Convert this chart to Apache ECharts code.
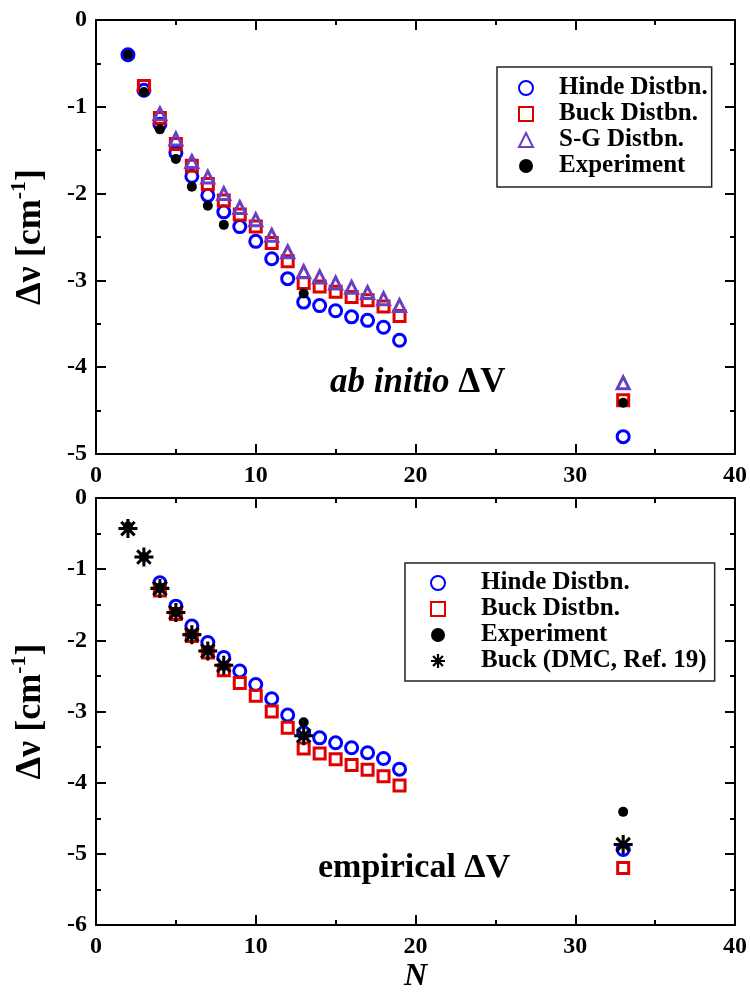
<!DOCTYPE html>
<html><head><meta charset="utf-8">
<script src="https://cdn.jsdelivr.net/npm/echarts@6/dist/echarts.min.js"></script>
<style>html,body{margin:0;padding:0;background:#fff}#c{width:750px;height:994px}</style>
</head><body><div id="c"></div>
<script>
// ---- Data: top panel (ab initio ΔV) ----
const topHindeN   = [2,3,4,5,6,7,8,9,10,11,12,13,14,15,16,17,18,19,33];
const topHindeV   = [-0.40,-0.81,-1.20,-1.53,-1.80,-2.02,-2.21,-2.38,-2.55,-2.75,-2.98,-3.25,-3.29,-3.35,-3.42,-3.46,-3.54,-3.69,-4.80];
const topBuckN    = [3,4,5,6,7,8,9,10,11,12,13,14,15,16,17,18,19,33];
const topBuckV    = [-0.76,-1.13,-1.43,-1.68,-1.89,-2.08,-2.24,-2.38,-2.57,-2.78,-3.03,-3.07,-3.13,-3.19,-3.23,-3.30,-3.41,-4.38];
const topSGN      = [4,5,6,7,8,9,10,11,12,13,14,15,16,17,18,19,33];
const topSGV      = [-1.08,-1.37,-1.63,-1.81,-2.00,-2.16,-2.30,-2.48,-2.67,-2.90,-2.96,-3.03,-3.08,-3.14,-3.21,-3.29,-4.18];
// ---- Experiment (both panels) ----
const expN        = [2,3,4,5,6,7,8,13,33];
const expV        = [-0.40,-0.83,-1.26,-1.60,-1.92,-2.14,-2.36,-3.15,-4.41];
// ---- Data: bottom panel (empirical ΔV) ----
const botHindeN   = [4,5,6,7,8,9,10,11,12,13,14,15,16,17,18,19,33];
const botHindeV   = [-1.19,-1.52,-1.80,-2.03,-2.24,-2.43,-2.62,-2.82,-3.05,-3.30,-3.37,-3.44,-3.51,-3.58,-3.66,-3.81,-4.94];
const botBuckN    = [4,5,6,7,8,9,10,11,12,13,14,15,16,17,18,19,33];
const botBuckV    = [-1.30,-1.63,-1.94,-2.17,-2.42,-2.60,-2.78,-3.00,-3.23,-3.52,-3.59,-3.67,-3.75,-3.82,-3.91,-4.04,-5.20];
const dmcN        = [2,3,4,5,6,7,8,13,33];
const dmcV        = [-0.43,-0.83,-1.27,-1.61,-1.92,-2.15,-2.35,-3.34,-4.87];
// ---- Axis ticks ----
const xTicks = [0,10,20,30,40];
const topYRange = [-5,0];
const botYRange = [-6,0];

const zip = (a,b)=>a.map((v,i)=>[v,b[i]]);
const FONT = "'Liberation Serif','Times New Roman',serif";
const BLUE='#0000ff', RED='#e00000', PURPLE='#6a3fc0', BLACK='#000';
const STAR='path://M-1.6,-10L1.6,-10L1.6,10L-1.6,10Z M-10,-1.6L10,-1.6L10,1.6L-10,1.6Z M-5.94,-8.2L8.2,5.94L5.94,8.2L-8.2,-5.94Z M5.94,-8.2L8.2,-5.94L-5.94,8.2L-8.2,5.94Z';

function xAx(gi, mirror){
  return {gridIndex:gi, type:'value', min:xTicks[0], max:xTicks[xTicks.length-1], interval:10,
    position: mirror?'top':'bottom',
    axisLine:{show:true,onZero:false,lineStyle:{color:'#000',width:2}},
    axisTick:{show:true,inside:true,length:10,lineStyle:{color:'#000',width:2}},
    minorTick:{show:true,splitNumber:2,length:5,lineStyle:{color:'#000',width:2}},
    splitLine:{show:false},
    axisLabel:{show:!mirror,margin:10,color:'#000',fontFamily:FONT,fontWeight:'bold',fontSize:24},
    name: (!mirror && gi===1)?'N':'', nameLocation:'middle', nameGap:36,
    nameTextStyle:{fontFamily:FONT,fontWeight:'bold',fontStyle:'italic',fontSize:32,color:'#000'}};
}
function yAx(gi, mirror, rng){
  return {gridIndex:gi, type:'value', min:rng[0], max:rng[1], interval:1,
    position: mirror?'right':'left',
    axisLine:{show:true,onZero:false,lineStyle:{color:'#000',width:2}},
    axisTick:{show:true,inside:true,length:10,lineStyle:{color:'#000',width:2}},
    minorTick:{show:true,splitNumber:2,length:5,lineStyle:{color:'#000',width:2}},
    splitLine:{show:false},
    axisLabel:{show:!mirror,margin:9,color:'#000',fontFamily:FONT,fontWeight:'bold',fontSize:24},
    name: mirror?'':'{a|Δν [cm}{s|-1}{a|]}', nameLocation:'middle', nameRotate:90, nameGap:42,
    nameTextStyle:{rich:{
      a:{fontFamily:FONT,fontWeight:'bold',fontSize:36,color:'#000'},
      s:{fontFamily:FONT,fontWeight:'bold',fontSize:22,color:'#000',padding:[0,0,24,0]}}}};
}
const hollow=(c)=>({color:'transparent',borderColor:c,borderWidth:3,opacity:1});

const series=[
  {name:'Hinde Distbn.',type:'scatter',xAxisIndex:0,yAxisIndex:0,symbol:'circle',symbolSize:12,itemStyle:hollow(BLUE),data:zip(topHindeN,topHindeV)},
  {name:'Buck Distbn.',type:'scatter',xAxisIndex:0,yAxisIndex:0,symbol:'rect',symbolSize:11,itemStyle:hollow(RED),data:zip(topBuckN,topBuckV)},
  {name:'S-G Distbn.',type:'scatter',xAxisIndex:0,yAxisIndex:0,symbol:'triangle',symbolSize:12,itemStyle:hollow(PURPLE),data:zip(topSGN,topSGV)},
  {name:'Experiment',type:'scatter',xAxisIndex:0,yAxisIndex:0,symbol:'circle',symbolSize:10,itemStyle:{color:BLACK,opacity:1},data:zip(expN,expV)},
  {name:'Hinde Distbn.',type:'scatter',xAxisIndex:2,yAxisIndex:2,symbol:'circle',symbolSize:12,itemStyle:hollow(BLUE),data:zip(botHindeN,botHindeV)},
  {name:'Buck Distbn.',type:'scatter',xAxisIndex:2,yAxisIndex:2,symbol:'rect',symbolSize:11,itemStyle:hollow(RED),data:zip(botBuckN,botBuckV)},
  {name:'Experiment',type:'scatter',xAxisIndex:2,yAxisIndex:2,symbol:'circle',symbolSize:10,itemStyle:{color:BLACK,opacity:1},data:zip(expN,expV)},
  {name:'Buck (DMC, Ref. 19)',type:'scatter',xAxisIndex:2,yAxisIndex:2,symbol:STAR,symbolSize:19,itemStyle:{color:BLACK,opacity:1},data:zip(dmcN,dmcV)}
];

const legendBase={orient:'vertical',itemWidth:14,itemHeight:14,itemGap:0,
  borderColor:'#222',borderWidth:1.5,backgroundColor:'#fff',selectedMode:false,
  textStyle:{fontFamily:FONT,fontWeight:'bold',fontSize:25,color:'#000',lineHeight:26}};

const chart=echarts.init(document.getElementById('c'),null,{renderer:'canvas'});
chart.setOption({
  animation:false,
  backgroundColor:'#fff',
  grid:[{left:96,right:15,top:20,height:434},{left:96,right:15,top:498,height:434}],
  xAxis:[xAx(0,false),xAx(0,true),xAx(1,false),xAx(1,true)],
  yAxis:[yAx(0,false,topYRange),yAx(0,true,topYRange),yAx(1,false,botYRange),yAx(1,true,botYRange)],
  legend:[
    Object.assign({},legendBase,{left:497,top:67,padding:[8,4,8,21],
      data:['Hinde Distbn.','Buck Distbn.','S-G Distbn.','Experiment'],
      textStyle:Object.assign({},legendBase.textStyle,{padding:[0,0,0,21]})}),
    Object.assign({},legendBase,{left:405,top:563,padding:[7,8,7,25],
      data:['Hinde Distbn.','Buck Distbn.','Experiment','Buck (DMC, Ref. 19)'],
      textStyle:Object.assign({},legendBase.textStyle,{padding:[0,0,0,31]})})
  ],
  graphic:[
    {type:'text',x:330,y:383,style:{text:'{i|ab initio}{n| ΔV}',verticalAlign:'middle',
      rich:{i:{fontFamily:FONT,fontWeight:'bold',fontStyle:'italic',fontSize:35,fill:'#000'},
            n:{fontFamily:FONT,fontWeight:'bold',fontSize:35,fill:'#000'}}}},
    {type:'text',x:318,y:868,style:{text:'empirical ΔV',verticalAlign:'middle',
      font:"bold 34px 'Liberation Serif','Times New Roman',serif",fill:'#000'}}
  ],
  series:series
});
</script></body></html>
